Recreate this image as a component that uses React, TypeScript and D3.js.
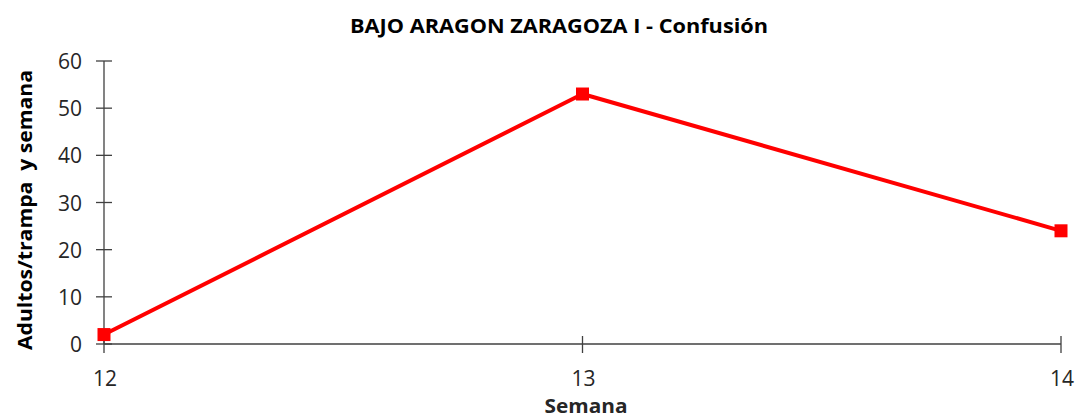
import React from "react";
import * as d3 from "d3";

const weeks = [12, 13, 14];
const adults = [2, 53, 24];
const yTicks = [0, 10, 20, 30, 40, 50, 60];
const title = "BAJO ARAGON ZARAGOZA I - Confusión";
const yLabel = "Adultos/trampa  y semana";
const xLabel = "Semana";

const W = 1078;
const H = 418;
const FONT = "'Open Sans', 'Liberation Sans', sans-serif";

export default function App() {
  const x = d3.scaleLinear().domain([12, 14]).range([104, 1061]);
  const y = d3.scaleLinear().domain([0, 60]).range([344, 61]);
  const line = d3
    .line<number>()
    .x((_, i) => x(weeks[i]))
    .y((d) => y(d));
  const axisColor = "#404040";
  const ms = 13;
  return (
    <svg
      width={W}
      height={H}
      style={{ position: "absolute", left: 0, top: 0, background: "#fff" }}
      fontFamily={FONT}
    >
      <text x={559} y={33} textAnchor="middle" fontWeight="bold" fontSize={20} fill="#000"
        textLength={418} lengthAdjust="spacingAndGlyphs">
        {title}
      </text>
      {/* y axis */}
      <line x1={x(12)} x2={x(12)} y1={y(60)} y2={y(0)} stroke={axisColor} strokeWidth={1.3} />
      {yTicks.map((t) => (
        <g key={t}>
          <line x1={x(12) - 8} x2={x(12) + 8} y1={y(t)} y2={y(t)} stroke={axisColor} strokeWidth={1.3} />
          <text x={82} y={y(t) + 8} textAnchor="end" fontSize={21} fill="#262626">
            {t}
          </text>
        </g>
      ))}
      {/* x axis */}
      <line x1={x(12)} x2={x(14)} y1={y(0)} y2={y(0)} stroke={axisColor} strokeWidth={1.3} />
      {weeks.map((w) => (
        <g key={w}>
          <line x1={x(w)} x2={x(w)} y1={y(0) - 8} y2={y(0) + 9} stroke={axisColor} strokeWidth={1.3} />
          <text x={x(w) + 1} y={386} textAnchor="middle" fontSize={21} fill="#262626">
            {w}
          </text>
        </g>
      ))}
      <text x={586} y={413} textAnchor="middle" fontWeight="bold" fontSize={20} fill="#262626"
        textLength={83} lengthAdjust="spacingAndGlyphs">
        {xLabel}
      </text>
      <text
        transform={`translate(32, 210) rotate(-90)`}
        textAnchor="middle"
        fontWeight="bold"
        fontSize={20}
        fill="#000"
        textLength={280}
        lengthAdjust="spacingAndGlyphs"
        style={{ whiteSpace: "pre" }}
      >
        {yLabel}
      </text>
      <path d={line(adults) || ""} fill="none" stroke="#FF0000" strokeWidth={4} strokeLinejoin="round" />
      {adults.map((v, i) => (
        <rect key={i} x={x(weeks[i]) - ms / 2} y={y(v) - ms / 2} width={ms} height={ms} fill="#FF0000" />
      ))}
    </svg>
  );
}
